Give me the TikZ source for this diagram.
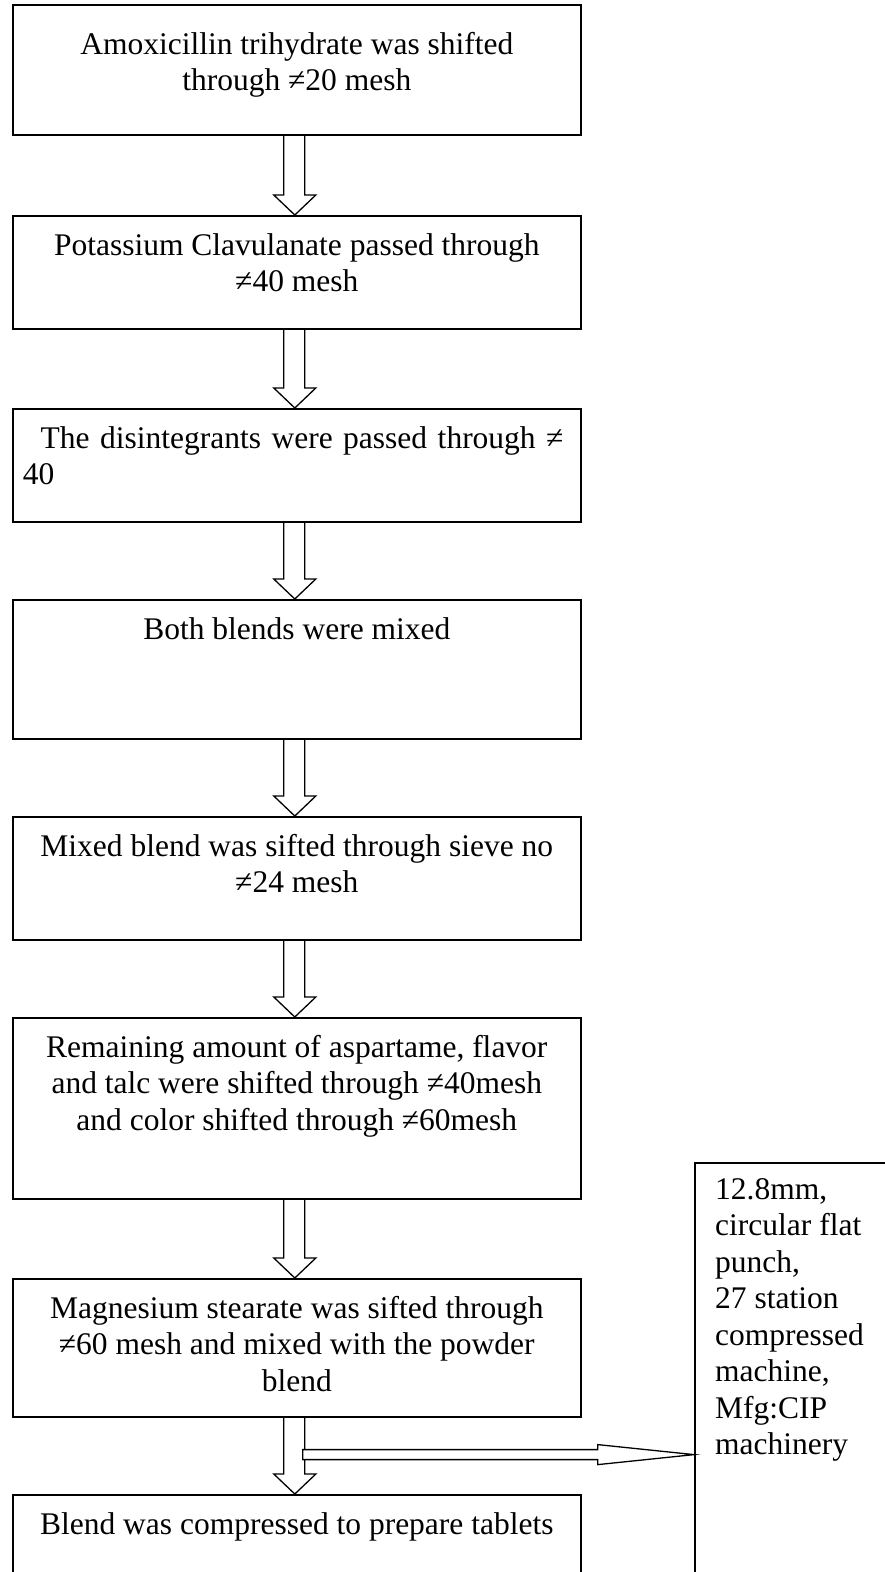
\documentclass[tikz,border=0pt]{standalone}
\usepackage{fontspec}
\setmainfont{Liberation Serif}
\usetikzlibrary{calc}
\tikzset{
  box/.style={draw, line width=1.6pt, rectangle, inner sep=0pt, anchor=north west, minimum width=568pt},
  txt/.style={inner sep=0pt, anchor=north, align=center, font=\fontsize{31.5}{36.5}\selectfont},
  arrowline/.style={draw, line width=1.3pt, line join=miter},
}
\newcommand\flowarr[2]{%
  \draw[arrowline] ($(#1.south)+(-13,0)$) -- ($(#2.north)+(-13,-20)$) -- ($(#2.north)+(-23,-20)$)
    -- ($(#2.north)+(-2,0)$) -- ($(#2.north)+(19,-20)$) -- ($(#2.north)+(8,-20)$) -- ($(#1.south)+(8,0)$);}
\begin{document}
\begin{tikzpicture}[x=1pt,y=-1pt]
\useasboundingbox (0,0) rectangle (884,1572);
\fill[white] (0,0) rectangle (884,1572);
% boxes
\node[box, minimum height=130pt] (b1) at (12,4) {};
\node[box, minimum height=113pt] (b2) at (12,215) {};
\node[box, minimum height=113pt] (b3) at (12,408) {};
\node[box, minimum height=139pt] (b4) at (12,599) {};
\node[box, minimum height=123pt] (b5) at (12,816) {};
\node[box, minimum height=181pt] (b6) at (12,1017) {};
\node[box, minimum height=138pt] (b7) at (12,1278) {};
\node[box, minimum height=90pt] (b8) at (12,1494) {};
\node[box, minimum width=200pt, minimum height=420pt] (s) at (694,1162) {};
% texts
\node[txt] (t1) at ($(b1.north)+(0,28)$) {Amoxicillin trihydrate was shifted\\through ≠20 mesh};
\node[txt] (t2) at ($(b2.north)+(0,18)$) {Potassium Clavulanate passed through\\≠40 mesh};
\node[txt, text width=548pt, align=left] (t3) at ($(b3.north)+(0,18)$) {\makebox[\linewidth][c]{\ The disintegrants were passed through ≠}\\40};
\node[txt] (t4) at ($(b4.north)+(0,18)$) {Both blends were mixed};
\node[txt] (t5) at ($(b5.north)+(0,18)$) {Mixed blend was sifted through sieve no\\≠24 mesh};
\node[txt] (t6) at ($(b6.north)+(0,18)$) {Remaining amount of aspartame, flavor\\and talc were shifted through ≠40mesh\\and color shifted through ≠60mesh};
\node[txt] (t7) at ($(b7.north)+(0,18)$) {Magnesium stearate was sifted through\\≠60 mesh and mixed with the powder\\blend};
\node[txt] (t8) at ($(b8.north)+(0,18)$) {Blend was compressed to prepare tablets};
\node[txt, anchor=north west, align=left] (ts) at (715,1178) {12.8mm,\\circular flat\\punch,\\27 station\\compressed\\machine,\\Mfg:CIP\\machinery};
% arrows
\flowarr{b1}{b2}
\flowarr{b2}{b3}
\flowarr{b3}{b4}
\flowarr{b4}{b5}
\flowarr{b5}{b6}
\flowarr{b6}{b7}
\flowarr{b7}{b8}
\coordinate (h) at ($(b7.south)+(6,37)$);
\draw[arrowline, fill=white] ($(h)+(0,-5)$) -- ($(h)+(295,-5)$) -- ($(h)+(295,-10)$) -- (s.west |- h)
  -- ($(h)+(295,10)$) -- ($(h)+(295,5)$) -- ($(h)+(0,5)$) -- cycle;
\end{tikzpicture}
\end{document}
